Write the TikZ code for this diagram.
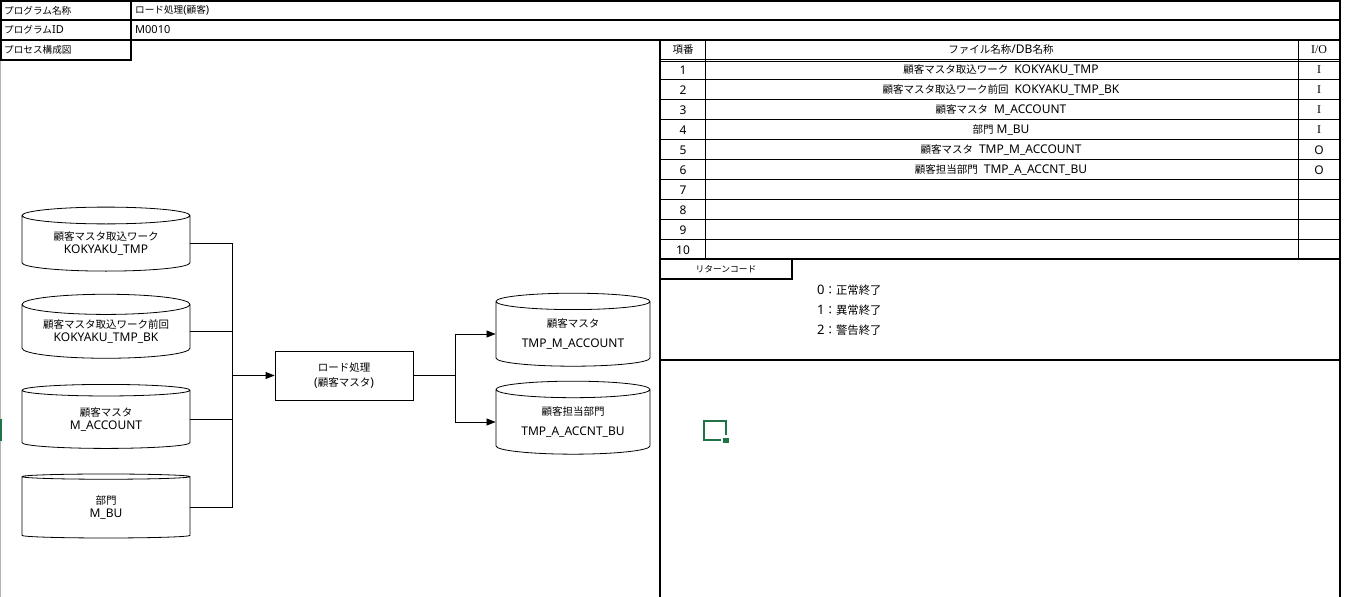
\documentclass[tikz,border=0pt]{standalone}
\usepackage{fontspec}
\setmainfont{Noto Sans}
\newfontfamily\jp[Scale=0.875]{Noto Sans CJK JP}
\newfontfamily\ioserif{Liberation Serif}
\usetikzlibrary{shapes.geometric, positioning, arrows.meta}
\definecolor{xlgreen}{HTML}{217346}

\begin{document}
\begin{tikzpicture}
	[x=1pt, y=-1pt, on grid, node distance=88pt,
	 frame/.style={line width=1.6pt},
	 rule/.style={line width=0.8pt},
	 db/.style={cylinder, shape border rotate=90, draw, line width=0.8pt, aspect=0.16,
	   minimum width=168pt, minimum height=64pt, inner sep=0pt, align=center,
	   font=\fontsize{12}{13}\selectfont},
	 dbout/.style={db, minimum width=154pt, minimum height=73pt, font=\fontsize{12}{20}\selectfont},
	 proc/.style={draw, line width=0.8pt, minimum width=138pt, minimum height=49pt, align=center,
	   font=\fontsize{12}{15}\selectfont},
	 cell/.style={inner sep=0pt, font=\fontsize{12}{13}\selectfont},
	 head/.style={inner sep=0pt, anchor=west, font=\fontsize{11}{12}\selectfont},
	 flow/.style={-{Triangle[length=9pt, width=7pt]}, line width=0.8pt}]
   \useasboundingbox (0,0) rectangle (1345,597);
   % sheet frame
   \draw[gray!60, line width=0.6pt] (0.5,60) -- (0.5,597);
   \draw[frame] (1,1) rectangle (1340,20);
   \draw[frame] (1,20) rectangle (1340,40);
   \draw[frame] (1,40) rectangle (131,60);
   \draw[frame] (131,1) -- (131,40);
   \draw[frame] (660,40) -- (660,597);
   \draw[frame] (1340,40) -- (1340,597);
   \node[head] (pname) at (4,10.5) {\jp プログラム名称};
   \node[head] (pid) at (4,30) {{\jp プログラム}ID};
   \node[head] (pmap) at (4,50) {\jp プロセス構成図};
   \node[head] (pnameval) at (135,10.5) {{\jp ロード処理}({\jp 顧客})};
   \node[head] (pidval) at (135,30) {M0010};

   % file table
   \draw[rule] (705,40) -- (705,259) (1298,40) -- (1298,259);
   \draw[rule] (660,59) -- (1340,59) (660,61.5) -- (1340,61.5);
   \foreach \y in {79,99,...,239} \draw[rule] (660,\y) -- (1340,\y);
   \draw[frame] (660,259) -- (1340,259);
   \node[cell] (hno) at (683,49.5) {\jp 項番};
   \node[cell] (hname) at (1001,49.5) {{\jp ファイル名称}/DB{\jp 名称}};
   \node[cell] (hio) at (1319,49.5) {\ioserif I/O};
   \foreach \n in {1,...,10} \node[cell] (no\n) at (683,50+20*\n) {\n};
   \node[cell] (f1) at (1001,70) {{\jp 顧客マスタ取込ワーク}\hspace{6pt}KOKYAKU\_TMP};
   \node[cell] (f2) at (1001,90) {{\jp 顧客マスタ取込ワーク前回}\hspace{6pt}KOKYAKU\_TMP\_BK};
   \node[cell] (f3) at (1001,110) {{\jp 顧客マスタ}\hspace{6pt}M\_ACCOUNT};
   \node[cell] (f4) at (1001,130) {{\jp 部門} M\_BU};
   \node[cell] (f5) at (1001,150) {{\jp 顧客マスタ}\hspace{6pt}TMP\_M\_ACCOUNT};
   \node[cell] (f6) at (1001,170) {{\jp 顧客担当部門}\hspace{6pt}TMP\_A\_ACCNT\_BU};
   \foreach \n/\io in {1/\ioserif I, 2/\ioserif I, 3/\ioserif I, 4/\ioserif I, 5/O, 6/O}
      \node[cell] (io\n) at (1319,50+20*\n) {\io};

   % return codes
   \draw[frame] (660,259) rectangle (792,279);
   \draw[frame] (660,360) -- (1340,360);
   \node[cell, font=\fontsize{10}{11}\selectfont] (rc) at (726,269) {\jp リターンコード};
   \node[head, font=\fontsize{13}{14}\selectfont] (rc0) at (817,290) {0{\jp ：正常終了}};
   \node[head, font=\fontsize{13}{14}\selectfont] (rc1) at (817,310) {1{\jp ：異常終了}};
   \node[head, font=\fontsize{13}{14}\selectfont] (rc2) at (817,330) {2{\jp ：警告終了}};

   % cell cursor
   \draw[xlgreen, frame] (704,421) rectangle (726,440);
   \fill[white] (721,435) rectangle (731,445);
   \fill[xlgreen] (723,437.5) rectangle (728.5,443);
   \fill[xlgreen] (0,419) rectangle (2,441);

   % process map
   \node[db] (k1) at (106,243.5) {{\jp 顧客マスタ取込ワーク}\\KOKYAKU\_TMP};
   \node[db] (k2) [below=of k1] {{\jp 顧客マスタ取込ワーク前回}\\KOKYAKU\_TMP\_BK};
   \node[db] (k3) [below=of k2] {{\jp 顧客マスタ}\\M\_ACCOUNT};
   \node[db] (k4) [below=of k3] {{\jp 部門}\\M\_BU};
   \node[proc] (load) at (344,375.5) {{\jp ロード処理}\\({\jp 顧客マスタ})};
   \node[dbout] (o1) at (573,334) {{\jp 顧客マスタ}\\TMP\_M\_ACCOUNT};
   \node[dbout] (o2) [below=of o1] {{\jp 顧客担当部門}\\TMP\_A\_ACCNT\_BU};
   \coordinate (jin) at (232,375.5);
   \coordinate (jout) at (455,375.5);
   \foreach \k in {k1,k2,k3,k4} \draw[rule] (\k.east) -| (jin);
   \draw[flow] (jin) -- (load);
   \draw[rule] (load) -- (jout);
   \draw[flow] (jout) |- (o1.west);
   \draw[flow] (jout) |- (o2.west);
\end{tikzpicture}
\end{document}
